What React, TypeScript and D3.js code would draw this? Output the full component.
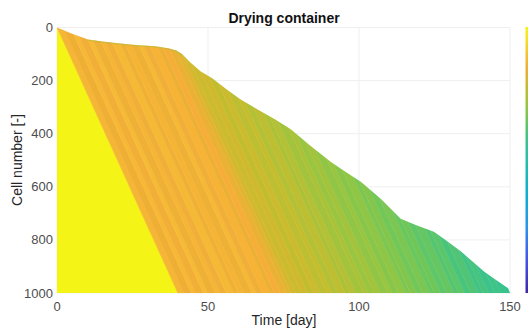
import React from 'react';
import * as d3 from 'd3';

// Dry-out front: last day each cell still holds water (day, cell number)
const frontDays = [0, 5, 10.3, 15, 20.9, 26, 32.5, 36.8, 39.5, 41.5, 44, 47.5, 51.4, 56, 60.7, 66, 72, 77.3, 84, 90.6, 95, 100.6, 107.2, 113.8, 119, 124.8, 129, 133.8, 137.5, 141.4, 145.5, 149.4, 150];
const frontCells = [0, 24, 45, 53, 60, 66, 71, 78, 87, 101, 130, 165, 191, 232, 270, 306, 345, 382, 446, 506, 540, 581, 645, 720, 745, 769, 803, 844, 880, 919, 952, 982, 1000];

// Saturation bands: each band runs parallel to the wetting delay (40 days across 1000 cells);
// edges are given as the day the band reaches cell 1000
const bandEdges = [0, 40, 42, 44.5, 46, 48.5, 50, 52.5, 54, 56, 58.5, 60, 62, 64.5, 66, 68, 70.5, 72, 74, 76,
  77.5, 79, 81, 83, 85, 87, 89.5, 91, 93, 95.5, 97, 99, 101.5, 103, 105, 107, 109.5, 111, 113, 115.5,
  117, 119, 121, 123.5, 125, 127, 129, 131.5, 133, 135, 137, 139.5, 141, 143, 145, 147, 160];
const bandLevels = [1.0, 0.875, 0.848, 0.878, 0.852, 0.882, 0.846, 0.874, 0.85, 0.88, 0.845, 0.872, 0.846, 0.878, 0.85,
  0.87, 0.842, 0.862, 0.84, 0.825, 0.80, 0.785, 0.795, 0.77, 0.785, 0.762, 0.775, 0.748, 0.762, 0.738,
  0.748, 0.722, 0.735, 0.708, 0.722, 0.698, 0.708, 0.684, 0.695, 0.67, 0.68, 0.655, 0.668, 0.642, 0.652,
  0.628, 0.638, 0.615, 0.625, 0.6, 0.61, 0.588, 0.596, 0.578, 0.585, 0.57];

// Colormap
const cmapPos = [0, 0.12, 0.25, 0.37, 0.5, 0.58, 0.65, 0.71, 0.78, 0.86, 0.93, 1];
const cmapCol = ['#3E26A8', '#4450EC', '#2796EB', '#0BAED3', '#27BFAA', '#3CC38A', '#6DC75A', '#9AC53E', '#C9BC2C', '#F6AD38', '#F5D62A', '#F4F415'];

const xTicks = [0, 50, 100, 150];
const yTicks = [0, 200, 400, 600, 800, 1000];

const DELAY = 40;

export default function App() {
  const W = 528, H = 328;
  const x = d3.scaleLinear().domain([0, 150]).range([57, 510]);
  const y = d3.scaleLinear().domain([0, 1000]).range([27.5, 293]);
  const color = d3.scaleLinear<string>().domain(cmapPos).range(cmapCol).interpolate(d3.interpolateRgb).clamp(true);

  const line = d3.line<[number, number]>().x(d => x(d[0])).y(d => y(d[1]));
  const wetPts: [number, number][] = frontDays.map((d, i) => [d, frontCells[i]]);
  const regionPath = line([...wetPts, [150, 1000], [0, 1000]]) + 'Z';
  const edgePath = line(wetPts.filter(p => p[0] > 6 && p[0] <= 42));

  const nBands = Math.min(bandLevels.length, bandEdges.length - 1);
  const bands = d3.range(nBands).map(i => {
    const a = bandEdges[i], b = bandEdges[i + 1];
    const pts: [number, number][] = [[a - DELAY, 0], [b - DELAY, 0], [b, 1000], [a, 1000]];
    return { d: line(pts) + 'Z', fill: color(bandLevels[i]) };
  });

  const cbStops = d3.range(0, 1.0001, 0.05);

  return (
    <svg width={W} height={H} style={{ position: 'absolute', left: 0, top: 0, background: '#fff' }}
      fontFamily="'Liberation Sans', Arial, sans-serif">
      <defs>
        <clipPath id="wet">
          <path d={regionPath} />
        </clipPath>
        <filter id="soft" x="-5%" y="-5%" width="110%" height="110%">
          <feGaussianBlur stdDeviation="0.5" />
        </filter>
        <linearGradient id="cbar" x1="0" y1="1" x2="0" y2="0">
          {cbStops.map(s => <stop key={s} offset={s} stopColor={color(s)} />)}
        </linearGradient>
      </defs>

      {/* grid */}
      <g stroke="#EFEFEF" strokeWidth={1}>
        {xTicks.map(t => <line key={'gx' + t} x1={x(t)} x2={x(t)} y1={y(0)} y2={y(1000)} />)}
        {yTicks.map(t => <line key={'gy' + t} x1={x(0)} x2={x(150)} y1={y(t)} y2={y(t)} />)}
      </g>

      {/* saturation field */}
      <g clipPath="url(#wet)">
        <g filter="url(#soft)">
          {bands.map((b, i) => <path key={i} d={b.d} fill={b.fill} stroke={b.fill} strokeWidth={0.5} />)}
        </g>
        <path d={edgePath || ''} fill="none" stroke="#B4BA34" strokeWidth={2.5} opacity={0.55} />
      </g>

      {/* tick labels */}
      <g fontSize={13} fill="#4D4D4D">
        {xTicks.map(t => <text key={'tx' + t} x={x(t)} y={311} textAnchor="middle">{t}</text>)}
        {yTicks.map(t => <text key={'ty' + t} x={53} y={y(t) + 4.5} textAnchor="end">{t}</text>)}
      </g>

      <text x={284} y={22.5} textAnchor="middle" fontSize={14} fontWeight="bold" fill="#111">Drying container</text>
      <text x={284} y={325} textAnchor="middle" fontSize={14} fill="#262626">Time [day]</text>
      <text transform={`translate(22,160) rotate(-90)`} textAnchor="middle" fontSize={14} fill="#262626">Cell number [-]</text>

      {/* colorbar */}
      <rect x={525.5} y={y(0) - 0.5} width={12} height={y(1000) - y(0) + 0.5} fill="url(#cbar)" />
    </svg>
  );
}
